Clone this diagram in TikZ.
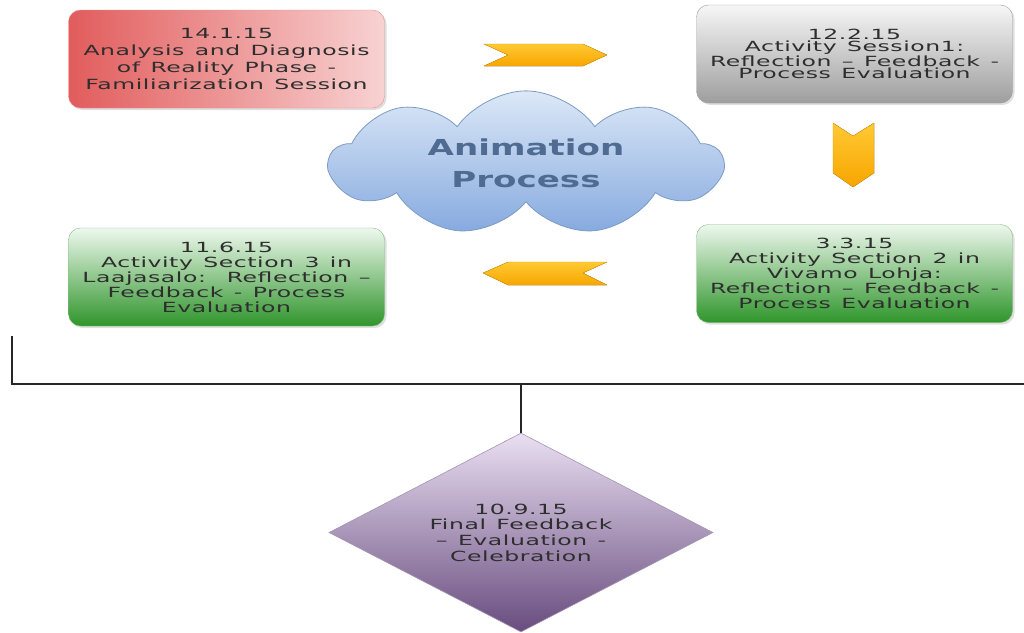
\documentclass[tikz,border=0pt]{standalone}
\usepackage{fontspec}
\setmainfont{DejaVu Sans}[FakeStretch=1.68,LetterSpace=4,WordSpace=1.3]
\newfontfamily\cloudfont{DejaVu Sans}[FakeStretch=1.55]
\usetikzlibrary{shapes.geometric,shapes.symbols,shadows}
\definecolor{txt}{HTML}{2E2E2E}
\definecolor{redA}{HTML}{E25C5C}
\definecolor{redB}{HTML}{F8D2D2}
\definecolor{grayA}{HTML}{F6F6F6}
\definecolor{grayB}{HTML}{9E9E9E}
\definecolor{greenA}{HTML}{EEF8EE}
\definecolor{greenM}{HTML}{86C683}
\definecolor{greenB}{HTML}{2F952B}
\definecolor{cloudA}{HTML}{DCE8F7}
\definecolor{cloudB}{HTML}{86AADF}
\definecolor{cloudE}{HTML}{7B9BC6}
\definecolor{cloudT}{HTML}{4F6B92}
\definecolor{arrA}{HTML}{FFC933}
\definecolor{arrB}{HTML}{F7A600}
\definecolor{purA}{HTML}{EADFF2}
\definecolor{purB}{HTML}{684C7E}
\tikzset{
  box/.style={rectangle, rounded corners=12pt, minimum width=316pt, minimum height=98pt,
    inner xsep=0pt, text width=316pt, align=flush center, text=txt,
    drop shadow={shadow xshift=2pt, shadow yshift=-2pt, opacity=0.25}},
  redbox/.style={box, draw=redA!70, left color=redA, right color=redB, font=\fontsize{14}{16.8}\selectfont},
  graybox/.style={box, draw=grayB, top color=grayA, bottom color=grayB, font=\fontsize{14}{12.3}\selectfont},
  greenbox/.style={box, draw=greenB!60, top color=greenA, middle color=greenM, bottom color=greenB, font=\fontsize{14}{15}\selectfont},
  chev/.style={top color=arrA, bottom color=arrB, draw=arrB!90!black, line width=0.3pt},
  conn/.style={draw=black!85, line width=1.6pt}
}
\begin{document}
\begin{tikzpicture}[x=1pt,y=-1pt]
\useasboundingbox[fill=white] (0,0) rectangle (1024,632);
\node[redbox] (n1) at (226.5,59) {14.1.15\\Analysis and Diagnosis\\of Reality Phase -\\Familiarization Session};
\node[graybox] (n2) at (854.5,54) {12.2.15\\Activity Session1:\\Reflection -- Feedback -\\Process Evaluation};
\node[greenbox] (n4) at (226.5,277) {11.6.15\\Activity Section 3 in\\Laajasalo:\ \ Reflection --\\Feedback - Process\\Evaluation};
\node[greenbox] (n3) at (854.5,273.5) {3.3.15\\Activity Section 2 in\\Vivamo Lohja:\\Reflection -- Feedback -\\Process Evaluation};
\node[cloud, cloud puffs=9, cloud puff arc=110, aspect=2.9, minimum width=392pt, minimum height=137pt,
  top color=cloudA, bottom color=cloudB, draw=cloudE, line width=0.8pt,
  text=cloudT, align=center, font=\cloudfont\bfseries\fontsize{22}{32}\selectfont] (c) at (526,163) {Animation\\Process};
% chevrons
\fill[chev] (484,44) -- (583,44) -- (607,55) -- (583,66) -- (484,66) -- (508,55) -- cycle;
\fill[chev] (833,123) -- (853,136) -- (874,123) -- (874,173) -- (853,187) -- (833,173) -- cycle;
\fill[chev] (483,273) -- (508,262) -- (607,262) -- (583,273) -- (607,285) -- (508,285) -- cycle;
% diamond
\node[diamond, shape aspect=1.93, minimum width=384pt, minimum height=199pt, inner sep=0pt,
  top color=purA, bottom color=purB, draw=purB!60, line width=0.6pt,
  align=center, text=txt, font=\fontsize{14}{15.6}\selectfont] (fin) at (521,532.5)
  {10.9.15\\Final Feedback\\-- Evaluation -\\Celebration};
% connectors
\coordinate (a) at (12,336);
\coordinate (b) at (1024,384);
\coordinate (j) at (fin.north |- b);
\draw[conn] (a) |- (b);
\draw[conn] (j) -- (fin.north);
\end{tikzpicture}
\end{document}
